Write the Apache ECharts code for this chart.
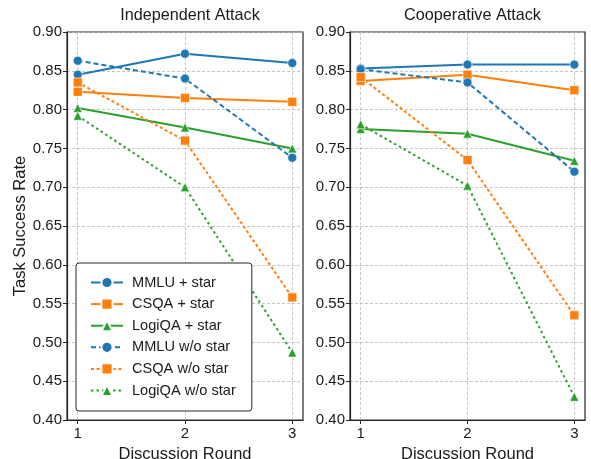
<!DOCTYPE html>
<html>
<head>
<meta charset="utf-8">
<script src="https://cdn.jsdelivr.net/npm/echarts@6/dist/echarts.min.js"></script>
<style>
html,body{margin:0;padding:0;background:#fff;}
#c{width:591px;height:459px;}
</style>
</head>
<body>
<div id="c"></div>
<script>
const rounds = [1, 2, 3];
const panelTitles = ['Independent Attack', 'Cooperative Attack'];
const seriesNames = ['MMLU + star', 'CSQA + star', 'LogiQA + star', 'MMLU w/o star', 'CSQA w/o star', 'LogiQA w/o star'];

// Independent Attack
const indMmluStar = [0.845, 0.872, 0.860];
const indCsqaStar = [0.823, 0.815, 0.810];
const indLogiStar = [0.802, 0.777, 0.750];
const indMmluNo = [0.863, 0.840, 0.738];
const indCsqaNo = [0.835, 0.760, 0.558];
const indLogiNo = [0.792, 0.700, 0.487];

// Cooperative Attack
const coMmluStar = [0.853, 0.858, 0.858];
const coCsqaStar = [0.837, 0.845, 0.825];
const coLogiStar = [0.775, 0.769, 0.734];
const coMmluNo = [0.852, 0.835, 0.720];
const coCsqaNo = [0.842, 0.735, 0.535];
const coLogiNo = [0.781, 0.702, 0.430];

const panels = [
  [indMmluStar, indCsqaStar, indLogiStar, indMmluNo, indCsqaNo, indLogiNo],
  [coMmluStar, coCsqaStar, coLogiStar, coMmluNo, coCsqaNo, coLogiNo]
];

const colors = ['#1f77b4', '#ff7f0e', '#2ca02c', '#1f77b4', '#ff7f0e', '#2ca02c'];
const symbols = ['circle', 'rect', 'triangle', 'circle', 'rect', 'triangle'];
const dashes = ['solid', 'solid', 'solid', [5, 3], [3, 2.5], [2.5, 3]];
const FONT = 'Liberation Sans';
const dark = '#262626';

const grids = [
  {left: 67, top: 32, width: 236, height: 388},
  {left: 350, top: 32, width: 235, height: 388}
];

const chart = echarts.init(document.getElementById('c'), null, {renderer: 'canvas'});

const option = {
  backgroundColor: '#fff',
  animation: false,
  title: panelTitles.map((t, i) => ({
    text: t,
    left: grids[i].left + grids[i].width / 2,
    textAlign: 'center',
    top: 2.5,
    textStyle: {fontFamily: FONT, fontSize: 16.2, fontWeight: 'normal', color: '#1a1a1a'}
  })),
  grid: grids.map(g => Object.assign({show: true, borderColor: dark, borderWidth: 1.2,
    backgroundColor: 'transparent', containLabel: false, outerBoundsMode: 'none'}, g)),
  xAxis: grids.map((g, i) => ({
    type: 'value', gridIndex: i, min: 0.9, max: 3.1, interval: 0.1,
    name: 'Discussion Round', nameLocation: 'middle', nameGap: 21,
    nameTextStyle: {fontFamily: FONT, fontSize: 16.5, color: '#1a1a1a'},
    axisLine: {show: true, lineStyle: {color: dark, width: 1.2}},
    axisTick: {show: true, length: 4, lineStyle: {color: dark}, customValues: rounds},
    axisLabel: {fontFamily: FONT, fontSize: 15, color: '#1a1a1a', margin: 6, customValues: rounds,
      formatter: v => String(Math.round(v))},
    splitLine: {show: true, lineStyle: {color: '#b8b8b8', type: [3, 2], width: 0.8}}
  })),
  yAxis: grids.map((g, i) => ({
    type: 'value', gridIndex: i, min: 0.4, max: 0.9, interval: 0.05,
    name: i === 0 ? 'Task Success Rate' : '', nameLocation: 'middle', nameGap: 35,
    nameTextStyle: {fontFamily: FONT, fontSize: 16.5, color: '#1a1a1a'},
    axisLine: {show: true, lineStyle: {color: dark, width: 1.2}},
    axisTick: {show: true, length: 4, lineStyle: {color: dark}},
    axisLabel: {fontFamily: FONT, fontSize: 15, color: '#1a1a1a', margin: 5,
      formatter: v => v.toFixed(2)},
    splitLine: {show: true, lineStyle: {color: '#b8b8b8', type: [3, 2], width: 0.8}}
  })),
  legend: {
    orient: 'vertical',
    left: 76, top: 263,
    width: 155,
    padding: [12, 16, 13, 14],
    itemGap: 6.6,
    itemWidth: 32,
    itemHeight: 14,
    backgroundColor: '#fff',
    borderColor: dark,
    borderWidth: 1,
    borderRadius: 3,
    textStyle: {fontFamily: FONT, fontSize: 14.6, color: '#1a1a1a', padding: [0, 0, 0, 4]},
    data: seriesNames
  },
  series: []
};

panels.forEach((vals, pi) => {
  vals.forEach((arr, si) => {
    option.series.push({
      name: seriesNames[si],
      type: 'line',
      xAxisIndex: pi, yAxisIndex: pi,
      data: rounds.map((r, k) => [r, arr[k]]),
      symbol: symbols[si],
      symbolSize: 9,
      showAllSymbol: true,
      lineStyle: {color: colors[si], width: 2, type: dashes[si]},
      itemStyle: {color: colors[si], borderColor: '#fff', borderWidth: 0.6},
      z: 3
    });
  });
});

chart.setOption(option);
</script>
</body>
</html>
